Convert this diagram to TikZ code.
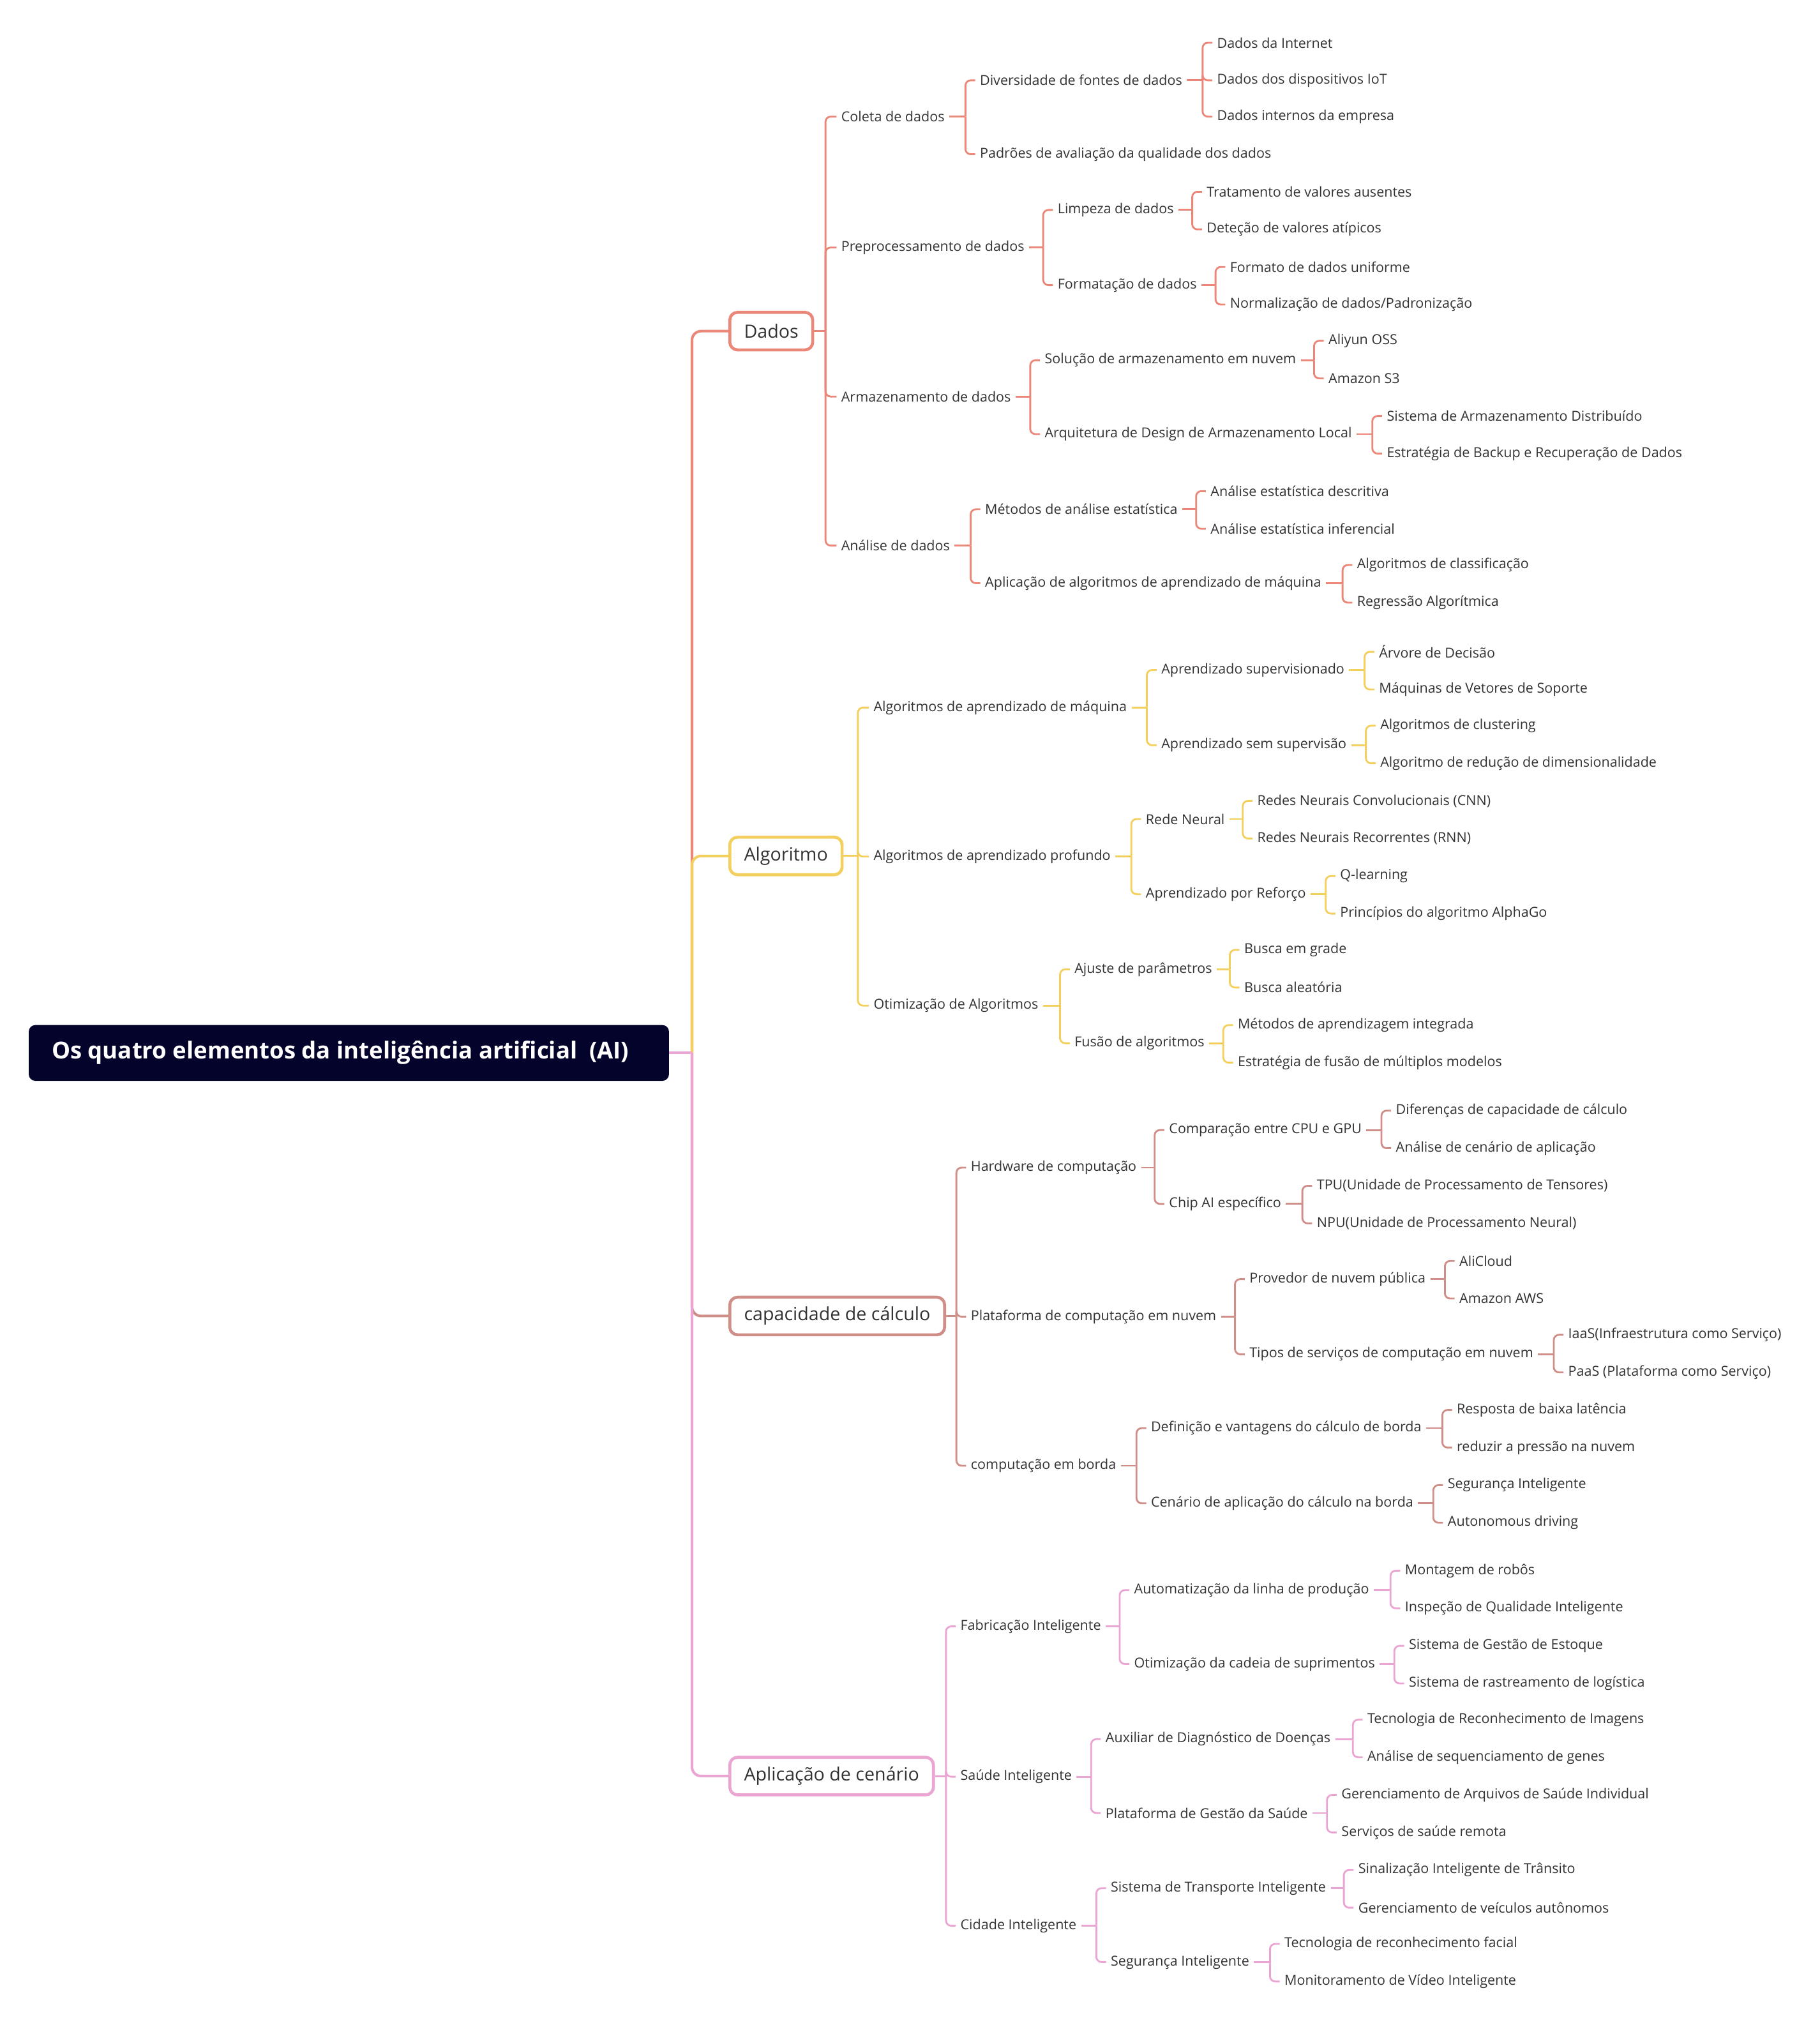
\documentclass[tikz,border=0pt]{standalone}
\usepackage{fontspec}
\setmainfont{Open Sans}
\definecolor{txt}{HTML}{333333}
\definecolor{dadosC}{HTML}{EB8778}
\definecolor{algoC}{HTML}{F3CF5E}
\definecolor{capC}{HTML}{CF8E88}
\definecolor{aplC}{HTML}{EBA5D2}
\definecolor{rootC}{HTML}{03032B}
\newcommand\kids[4]{%
  \draw[#1,lk] (#2.east) -- (#3,0 |- #2.east);
  \foreach \k in {#4}{\draw[#1,lk,rounded corners=4pt] (#3,0 |- #2.east) |- (\k.west);}
}
\begin{document}
\begin{tikzpicture}[x=1pt,y=-1pt,
  lv/.style={anchor=west,yshift=-1pt,inner xsep=3.5pt,inner ysep=1pt,text=txt,font=\fontsize{10.6}{12}\selectfont},
  topn/.style={anchor=west,yshift=-0.5pt,draw=#1,fill=white,rounded corners=6pt,line width=2.3pt,minimum height=29pt,inner xsep=11pt,text=txt,font=\fontsize{14.1}{17}\selectfont},
  rootn/.style={anchor=west,fill=rootC,rounded corners=5pt,minimum height=43pt,minimum width=494pt,text=white,font=\bfseries\fontsize{18}{21}\selectfont},
  lk/.style={line width=1.4pt},
  lk0/.style={line width=2pt,rounded corners=7pt}
]
\useasboundingbox (0,0) rectangle (1404,1568);
% root and level 1
\node[rootn] (root) at (22,812.5) {Os quatro elementos da inteligência artificial\ \ (AI)\kern13pt};
\coordinate (hub) at (534,812.5);
\node[topn=dadosC] (d) at (562,255) {Dados};
\node[topn=algoC] (a) at (562,660) {Algoritmo};
\node[topn=capC] (c) at (562,1015) {capacidade de cálculo};
\node[topn=aplC] (p) at (562,1370) {Aplicação de cenário};
% Dados
\node[lv] (d1) at (645.5,89) {Coleta de dados};
\node[lv] (d2) at (645.5,190) {Preprocessamento de dados};
\node[lv] (d3) at (645.5,305) {Armazenamento de dados};
\node[lv] (d4) at (645.5,420) {Análise de dados};
\node[lv] (d11) at (752.5,61) {Diversidade de fontes de dados};
\node[lv] (d12) at (752.5,118) {Padrões de avaliação da qualidade dos dados};
\node[lv] (d111) at (935.5,32) {Dados da Internet};
\node[lv] (d112) at (935.5,61) {Dados dos dispositivos IoT};
\node[lv] (d113) at (935.5,89) {Dados internos da empresa};
\node[lv] (d21) at (812.5,161) {Limpeza de dados};
\node[lv] (d22) at (812.5,219) {Formatação de dados};
\node[lv] (d211) at (927.5,147) {Tratamento de valores ausentes};
\node[lv] (d212) at (927.5,176) {Deteção de valores atípicos};
\node[lv] (d221) at (945.5,205) {Formato de dados uniforme};
\node[lv] (d222) at (945.5,234) {Normalização de dados/Padronização};
\node[lv] (d31) at (802.5,277) {Solução de armazenamento em nuvem};
\node[lv] (d32) at (802.5,334) {Arquitetura de Design de Armazenamento Local};
\node[lv] (d311) at (1021.5,262) {Aliyun OSS};
\node[lv] (d312) at (1021.5,291) {Amazon S3};
\node[lv] (d321) at (1066.5,320) {Sistema de Armazenamento Distribuído};
\node[lv] (d322) at (1066.5,349) {Estratégia de Backup e Recuperação de Dados};
\node[lv] (d41) at (756.5,392) {Métodos de análise estatística};
\node[lv] (d42) at (756.5,449) {Aplicação de algoritmos de aprendizado de máquina};
\node[lv] (d411) at (930.5,378) {Análise estatística descritiva};
\node[lv] (d412) at (930.5,407) {Análise estatística inferencial};
\node[lv] (d421) at (1043.5,435) {Algoritmos de classificação};
\node[lv] (d422) at (1043.5,464) {Regressão Algorítmica};
% Algoritmo
\node[lv] (a1) at (670.5,545) {Algoritmos de aprendizado de máquina};
\node[lv] (a2) at (670.5,660) {Algoritmos de aprendizado profundo};
\node[lv] (a3) at (670.5,775) {Otimização de Algoritmos};
\node[lv] (a11) at (892.5,516) {Aprendizado supervisionado};
\node[lv] (a12) at (892.5,574) {Aprendizado sem supervisão};
\node[lv] (a111) at (1060.5,502) {Árvore de Decisão};
\node[lv] (a112) at (1060.5,531) {Máquinas de Vetores de Soporte};
\node[lv] (a121) at (1061.5,559) {Algoritmos de clustering};
\node[lv] (a122) at (1061.5,588) {Algoritmo de redução de dimensionalidade};
\node[lv] (a21) at (880.5,631) {Rede Neural};
\node[lv] (a22) at (880.5,689) {Aprendizado por Reforço};
\node[lv] (a211) at (966.5,617) {Redes Neurais Convolucionais (CNN)};
\node[lv] (a212) at (966.5,646) {Redes Neurais Recorrentes (RNN)};
\node[lv] (a221) at (1030.5,675) {Q-learning};
\node[lv] (a222) at (1030.5,704) {Princípios do algoritmo AlphaGo};
\node[lv] (a31) at (825.5,747) {Ajuste de parâmetros};
\node[lv] (a32) at (825.5,804) {Fusão de algoritmos};
\node[lv] (a311) at (956.5,732) {Busca em grade};
\node[lv] (a312) at (956.5,761) {Busca aleatória};
\node[lv] (a321) at (951.5,790) {Métodos de aprendizagem integrada};
\node[lv] (a322) at (951.5,819) {Estratégia de fusão de múltiplos modelos};
% capacidade
\node[lv] (c1) at (745.5,900) {Hardware de computação};
\node[lv] (c2) at (745.5,1015) {Plataforma de computação em nuvem};
\node[lv] (c3) at (745.5,1130) {computação em borda};
\node[lv] (c11) at (898.5,871) {Comparação entre CPU e GPU};
\node[lv] (c12) at (898.5,928) {Chip AI específico};
\node[lv] (c111) at (1073.5,856) {Diferenças de capacidade de cálculo};
\node[lv] (c112) at (1073.5,885) {Análise de cenário de aplicação};
\node[lv] (c121) at (1012.5,914) {TPU(Unidade de Processamento de Tensores)};
\node[lv] (c122) at (1012.5,943) {NPU(Unidade de Processamento Neural)};
\node[lv] (c21) at (960.5,986) {Provedor de nuvem pública};
\node[lv] (c22) at (960.5,1044) {Tipos de serviços de computação em nuvem};
\node[lv] (c211) at (1122.5,972) {AliCloud};
\node[lv] (c212) at (1122.5,1001) {Amazon AWS};
\node[lv] (c221) at (1206.5,1029) {IaaS(Infraestrutura como Serviço)};
\node[lv] (c222) at (1206.5,1058) {PaaS (Plataforma como Serviço)};
\node[lv] (c31) at (884.5,1101) {Definição e vantagens do cálculo de borda};
\node[lv] (c32) at (884.5,1159) {Cenário de aplicação do cálculo na borda};
\node[lv] (c311) at (1120.5,1087) {Resposta de baixa latência};
\node[lv] (c312) at (1120.5,1116) {reduzir a pressão na nuvem};
\node[lv] (c321) at (1113.5,1145) {Segurança Inteligente};
\node[lv] (c322) at (1113.5,1174) {Autonomous driving};
% Aplicacao
\node[lv] (p1) at (737.5,1254) {Fabricação Inteligente};
\node[lv] (p2) at (737.5,1370) {Saúde Inteligente};
\node[lv] (p3) at (737.5,1485) {Cidade Inteligente};
\node[lv] (p11) at (871.5,1226) {Automatização da linha de produção};
\node[lv] (p12) at (871.5,1283) {Otimização da cadeia de suprimentos};
\node[lv] (p111) at (1080.5,1211) {Montagem de robôs};
\node[lv] (p112) at (1080.5,1240) {Inspeção de Qualidade Inteligente};
\node[lv] (p121) at (1083.5,1269) {Sistema de Gestão de Estoque};
\node[lv] (p122) at (1083.5,1298) {Sistema de rastreamento de logística};
\node[lv] (p21) at (849.5,1341) {Auxiliar de Diagnóstico de Doenças};
\node[lv] (p22) at (849.5,1398) {Plataforma de Gestão da Saúde};
\node[lv] (p211) at (1051.5,1326) {Tecnologia de Reconhecimento de Imagens};
\node[lv] (p212) at (1051.5,1355) {Análise de sequenciamento de genes};
\node[lv] (p221) at (1031.5,1384) {Gerenciamento de Arquivos de Saúde Individual};
\node[lv] (p222) at (1031.5,1413) {Serviços de saúde remota};
\node[lv] (p31) at (853.5,1456) {Sistema de Transporte Inteligente};
\node[lv] (p32) at (853.5,1513) {Segurança Inteligente};
\node[lv] (p311) at (1044.5,1442) {Sinalização Inteligente de Trânsito};
\node[lv] (p312) at (1044.5,1471) {Gerenciamento de veículos autônomos};
\node[lv] (p321) at (987.5,1499) {Tecnologia de reconhecimento facial};
\node[lv] (p322) at (987.5,1528) {Monitoramento de Vídeo Inteligente};
% trunk connectors
\draw[dadosC,lk0] (hub) |- (d.west);
\draw[algoC,lk0] (hub) |- (a.west);
\draw[capC,lk0] (hub) |- (c.west);
\draw[aplC,lk0] (hub) |- (p.west);
\draw[aplC,line width=2pt] (root.east) -- (hub);
% brackets
\kids{dadosC}{d}{637}{d1,d2,d3,d4}
\kids{dadosC}{d1}{745}{d11,d12}
\kids{dadosC}{d11}{928}{d111,d112,d113}
\kids{dadosC}{d2}{805}{d21,d22}
\kids{dadosC}{d21}{920}{d211,d212}
\kids{dadosC}{d22}{938}{d221,d222}
\kids{dadosC}{d3}{795}{d31,d32}
\kids{dadosC}{d31}{1014}{d311,d312}
\kids{dadosC}{d32}{1059}{d321,d322}
\kids{dadosC}{d4}{749}{d41,d42}
\kids{dadosC}{d41}{923}{d411,d412}
\kids{dadosC}{d42}{1036}{d421,d422}
\kids{algoC}{a}{662}{a1,a2,a3}
\kids{algoC}{a1}{885}{a11,a12}
\kids{algoC}{a11}{1053}{a111,a112}
\kids{algoC}{a12}{1054}{a121,a122}
\kids{algoC}{a2}{873}{a21,a22}
\kids{algoC}{a21}{959}{a211,a212}
\kids{algoC}{a22}{1023}{a221,a222}
\kids{algoC}{a3}{818}{a31,a32}
\kids{algoC}{a31}{949}{a311,a312}
\kids{algoC}{a32}{944}{a321,a322}
\kids{capC}{c}{738}{c1,c2,c3}
\kids{capC}{c1}{891}{c11,c12}
\kids{capC}{c11}{1066}{c111,c112}
\kids{capC}{c12}{1005}{c121,c122}
\kids{capC}{c2}{953}{c21,c22}
\kids{capC}{c21}{1115}{c211,c212}
\kids{capC}{c22}{1199}{c221,c222}
\kids{capC}{c3}{877}{c31,c32}
\kids{capC}{c31}{1113}{c311,c312}
\kids{capC}{c32}{1106}{c321,c322}
\kids{aplC}{p}{730}{p1,p2,p3}
\kids{aplC}{p1}{864}{p11,p12}
\kids{aplC}{p11}{1073}{p111,p112}
\kids{aplC}{p12}{1076}{p121,p122}
\kids{aplC}{p2}{842}{p21,p22}
\kids{aplC}{p21}{1044}{p211,p212}
\kids{aplC}{p22}{1024}{p221,p222}
\kids{aplC}{p3}{846}{p31,p32}
\kids{aplC}{p31}{1037}{p311,p312}
\kids{aplC}{p32}{980}{p321,p322}
\end{tikzpicture}
\end{document}
